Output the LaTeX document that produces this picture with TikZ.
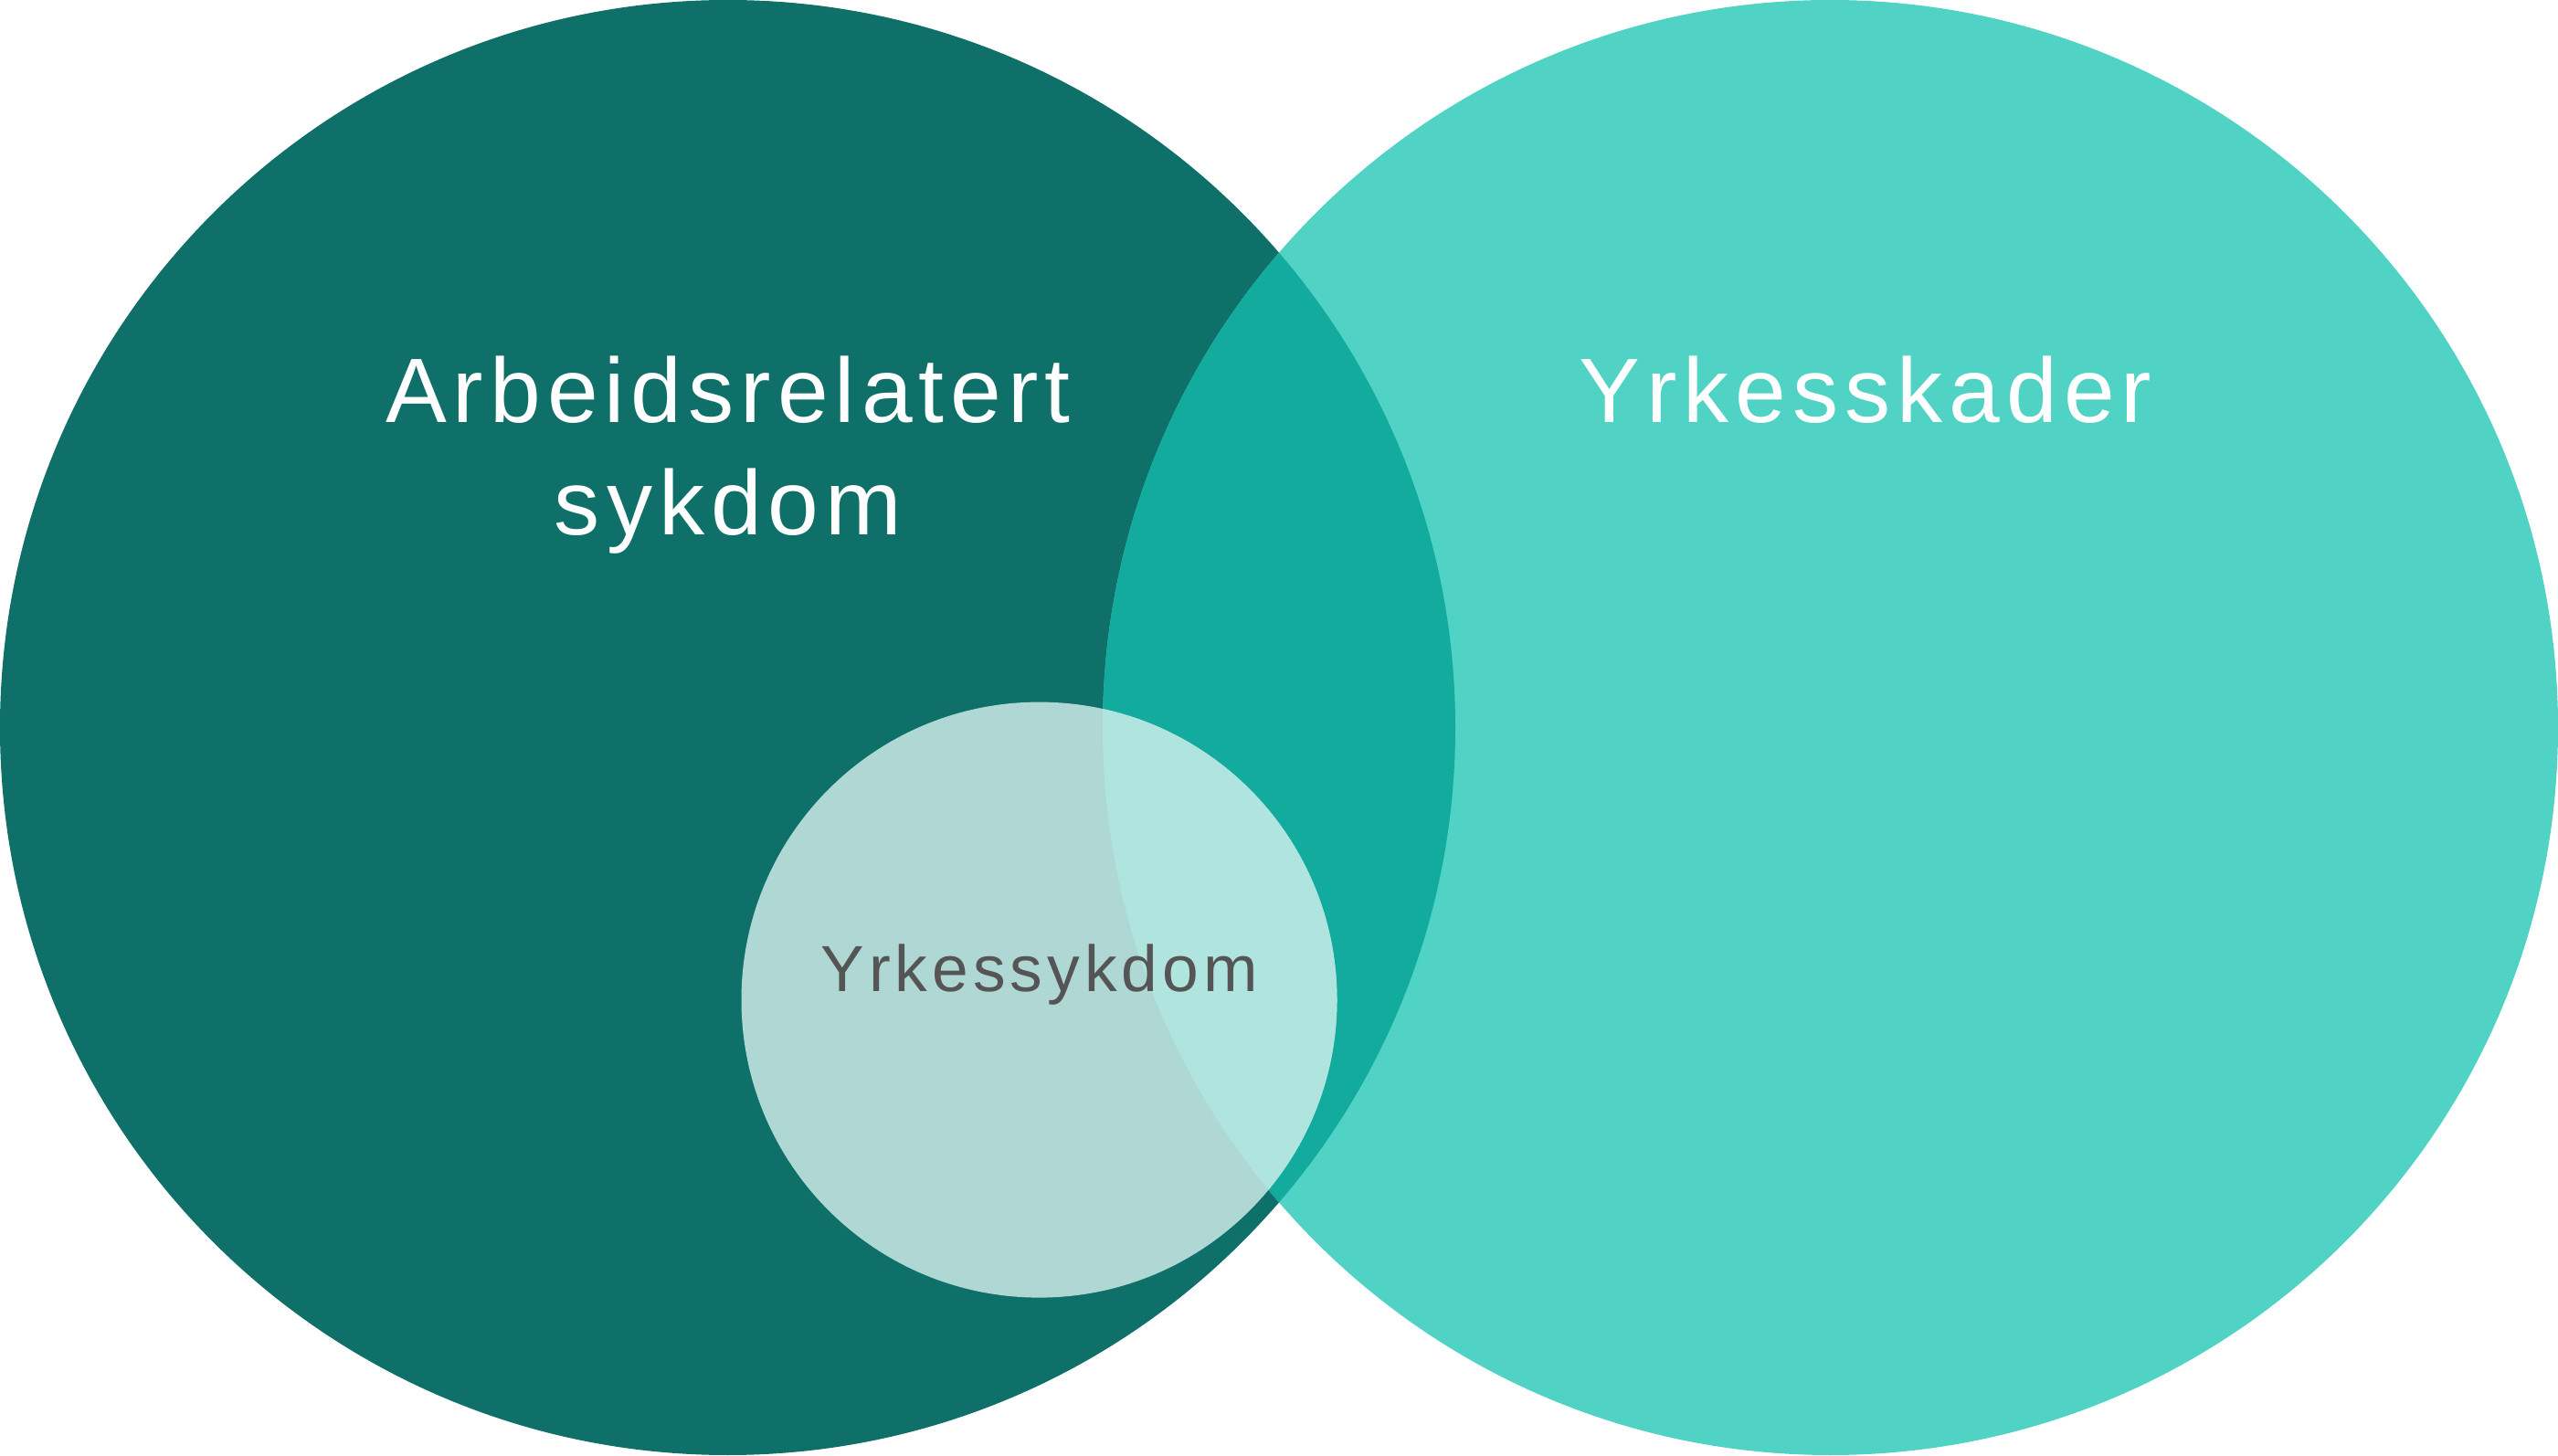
\documentclass[tikz,border=0pt]{standalone}
\usepackage{fontspec}
\setmainfont{Liberation Sans}[LetterSpace=7]
\definecolor{arbeid}{HTML}{0E7068}
\definecolor{skade}{HTML}{50D2C4}
\definecolor{felles}{HTML}{12AB9E}
\definecolor{sykdomlys}{HTML}{AFD8D5}
\definecolor{sykdomlyst}{HTML}{AFE4DF}
\definecolor{tekstgraa}{HTML}{555555}

\begin{document}
\begin{tikzpicture}[
    stortekst/.style={text=white, font=\fontsize{28.5}{35}\selectfont, align=center, inner sep=0pt, anchor=base},
    smaatekst/.style={text=tekstgraa, font=\fontsize{20.3}{24}\selectfont, inner sep=0pt, anchor=base}
  ]
            \useasboundingbox (0,0) rectangle (28,15.93);
            \coordinate (venstre) at (7.965,7.965);
            \coordinate (hoyre) at (20.035,7.965);
            \coordinate (liten) at (11.375,4.984);

            \fill[arbeid] (venstre) circle (7.965);
            \fill[skade] (hoyre) circle (7.965);
            \begin{scope}
              \clip (venstre) circle (7.965);
              \fill[felles] (hoyre) circle (7.965);
            \end{scope}

            \fill[sykdomlys] (liten) circle (3.26);
            \begin{scope}
              \clip (hoyre) circle (7.965);
              \fill[sykdomlyst] (liten) circle (3.26);
            \end{scope}

            \node[stortekst] (arbeidsrelatert) at (7.97,10.073) {Arbeidsrelatert\\sykdom};
            \node[stortekst] (yrkesskader) at (20.42,11.305) {Yrkesskader};
            \node[smaatekst] (yrkessykdom) at (11.375,5.073) {Yrkessykdom};
        \end{tikzpicture}
\end{document}
